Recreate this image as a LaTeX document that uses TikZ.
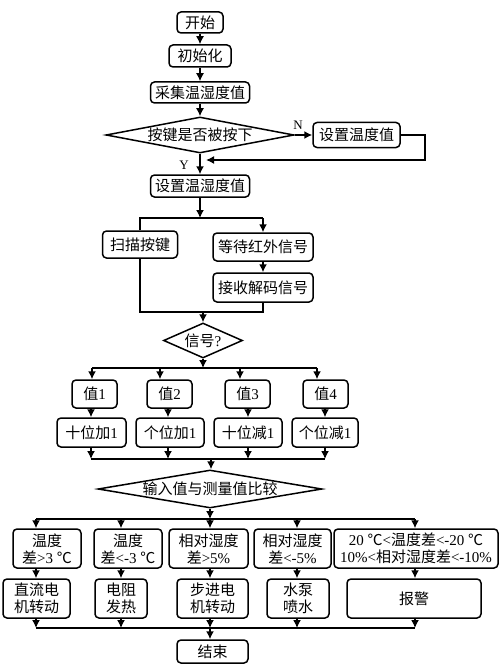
\documentclass[tikz,border=0pt]{standalone}
\usepackage{fontspec}
\setmainfont{Liberation Serif}
\newfontfamily\cjk{Noto Sans CJK SC}
\newcommand\zh[1]{{\cjk #1}}
\usetikzlibrary{arrows.meta,shapes.geometric}
\begin{document}
\begin{tikzpicture}[x=1pt,y=-1pt,
  every node/.style={font=\fontsize{15}{17}\selectfont, inner sep=0pt, align=center},
  box/.style={draw, rounded corners=4pt, line width=1.5pt},
  dia/.style={draw, diamond, line width=1.5pt, inner sep=-4pt},
  conn/.style={line width=1.5pt},
  arr/.style={conn, -{Latex[length=8pt,width=8pt]}},
  lab/.style={font=\fontsize{13}{15}\selectfont}]
\useasboundingbox (0,0) rectangle (500,666);
% nodes
\node[box, minimum width=46, minimum height=21] (start) at (200,22.5) {\zh{开始}};
\node[box, minimum width=62, minimum height=22] (init) at (200,56) {\zh{初始化}};
\node[box, minimum width=99, minimum height=21] (collect) at (200,92.5) {\zh{采集温湿度值}};
\node[dia, aspect=5.2, minimum width=188, minimum height=36] (d1) at (200,135) {\zh{按键是否被按下}};
\node[box, minimum width=87, minimum height=25] (setT) at (356.5,135) {\zh{设置温度值}};
\node[box, minimum width=99, minimum height=22] (setTH) at (200,186) {\zh{设置温湿度值}};
\node[box, minimum width=75, minimum height=27] (scan) at (140,244.5) {\zh{扫描按键}};
\node[box, minimum width=100, minimum height=28] (wait) at (263,247) {\zh{等待红外信号}};
\node[box, minimum width=100, minimum height=29] (recv) at (263,287.5) {\zh{接收解码信号}};
\node[dia, aspect=2.26, minimum width=79, minimum height=35] (d2) at (203,340.5) {\zh{信号}?};
\node[box, minimum width=45, minimum height=28] (v1) at (94.5,394) {\zh{值}1};
\node[box, minimum width=45, minimum height=28] (v2) at (169.5,394) {\zh{值}2};
\node[box, minimum width=45, minimum height=28] (v3) at (247.5,394) {\zh{值}3};
\node[box, minimum width=45, minimum height=28] (v4) at (325.5,394) {\zh{值}4};
\node[box, minimum width=69, minimum height=29] (a1) at (91.5,432.5) {\zh{十位加}1};
\node[box, minimum width=68, minimum height=29] (a2) at (170,432.5) {\zh{个位加}1};
\node[box, minimum width=68, minimum height=29] (a3) at (248,432.5) {\zh{十位减}1};
\node[box, minimum width=66, minimum height=29] (a4) at (325,432.5) {\zh{个位减}1};
\node[dia, aspect=5.9, minimum width=224, minimum height=38] (d3) at (210,489) {\zh{输入值与测量值比较}};
\node[box, minimum width=68, minimum height=39] (c1) at (47,548.5) {\zh{温度}\\\zh{差}>3 \zh{℃}};
\node[box, minimum width=68, minimum height=39] (c2) at (128,548.5) {\zh{温度}\\\zh{差}<-3 \zh{℃}};
\node[box, minimum width=79, minimum height=39] (c3) at (208.5,548.5) {\zh{相对湿度}\\\zh{差}>5\%};
\node[box, minimum width=77, minimum height=39] (c4) at (292.5,548.5) {\zh{相对湿度}\\\zh{差}<-5\%};
\node[box, minimum width=164, minimum height=39] (c5) at (416,548.5) {20 \zh{℃}<\zh{温度差}<-20 \zh{℃}\\10\%<\zh{相对湿度差}<-10\%};
\node[box, minimum width=67, minimum height=39] (r1) at (36.5,598.5) {\zh{直流电}\\\zh{机转动}};
\node[box, minimum width=52, minimum height=39] (r2) at (121,598.5) {\zh{电阻}\\\zh{发热}};
\node[box, minimum width=71, minimum height=39] (r3) at (212.5,598.5) {\zh{步进电}\\\zh{机转动}};
\node[box, minimum width=62, minimum height=39] (r4) at (298,598.5) {\zh{水泵}\\\zh{喷水}};
\node[box, minimum width=134, minimum height=39] (r5) at (414,598.5) {\zh{报警}};
\node[box, minimum width=71, minimum height=23] (end) at (212.5,651.5) {\zh{结束}};
\node[lab] (nlab) at (298,125) {N};
\node[lab] (ylab) at (184,165) {Y};
% coordinates
\coordinate (loopB) at (425,160);
\coordinate (loopE) at (206,160);
\coordinate (j1) at (200,218);
\coordinate (j1R) at (263,218);
\coordinate (j2) at (203,312);
\coordinate (j3) at (203,368);
\coordinate (q1) at (92,0);  \coordinate (q2) at (160,0);
\coordinate (q3) at (240,0); \coordinate (q4) at (317,0);
\coordinate (k1) at (91,0);  \coordinate (k2) at (168,0);
\coordinate (k3) at (248,0); \coordinate (k4) at (325,0);
\coordinate (m) at (211,459);
\coordinate (s) at (210,519);
\coordinate (t) at (210,628);
\coordinate (p1) at (36,0);  \coordinate (p2) at (121,0);
\coordinate (p3) at (210,0); \coordinate (p4) at (297,0);
\coordinate (p5) at (415,0);
% connectors
\draw[arr] (start.south) -- (init.north);
\draw[arr] (init.south) -- (collect.north);
\draw[arr] (collect.south) -- (d1.north);
\draw[arr] (d1.east) -- (setT.west);
\draw[arr] (setT.east) -| (loopB) -- (loopE);
\draw[arr] (d1.south) -- (setTH.north);
\draw[arr] (setTH.south) -- (j1);
\draw[conn] (scan.north) |- (j1R);
\draw[arr] (j1R) -- (wait.north);
\draw[arr] (wait.south) -- (recv.north);
\draw[conn] (scan.south) |- (j2) -| (recv.south);
\draw[arr] (j2) -- (d2.north);
\draw[arr] (d2.south) -- (j3);
\draw[conn] (q1 |- j3) -- (q4 |- j3);
\foreach \i in {1,2,3,4} {
  \draw[arr] (q\i |- j3) -- (q\i |- v\i.north);
  \draw[arr] (k\i |- v\i.south) -- (k\i |- a\i.north);
  \draw[arr] (k\i |- a\i.south) -- (k\i |- m);
}
\draw[conn] (k1 |- m) -- (k4 |- m);
\draw[arr] (m) -- (m |- d3.north);
\draw[arr] (d3.south) -- (s);
\draw[conn] (p1 |- s) -- (p5 |- s);
\foreach \i in {1,2,3,4,5} {
  \draw[arr] (p\i |- s) -- (p\i |- c\i.north);
  \draw[arr] (p\i |- c\i.south) -- (p\i |- r\i.north);
  \draw[arr] (p\i |- r\i.south) -- (p\i |- t);
}
\draw[conn] (p1 |- t) -- (p5 |- t);
\draw[arr] (t) -- (t |- end.north);
\end{tikzpicture}
\end{document}
